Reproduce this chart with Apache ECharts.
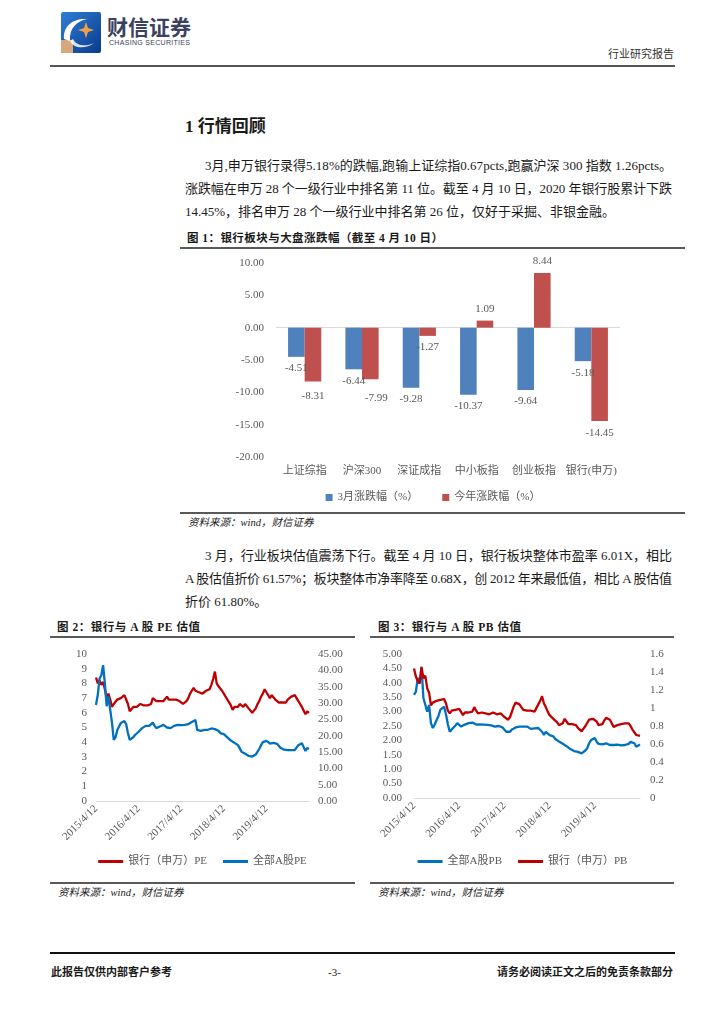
<!DOCTYPE html>
<html><head><meta charset="utf-8">
<script src="https://cdn.jsdelivr.net/npm/echarts/dist/echarts.min.js"></script>
<style>
html,body{margin:0;padding:0;background:#fff;}
#page{position:relative;width:724px;height:1024px;overflow:hidden;background:#fff;font-family:"Liberation Serif","Noto Sans CJK SC",serif;color:#1a1a1a;}
.ab{position:absolute;white-space:nowrap;}
.ln{position:absolute;white-space:nowrap;line-height:20px;height:20px;font-size:13px;}
.rule{position:absolute;background:#595959;}
.chart{position:absolute;}
</style>
</head><body>
<div id="page">
  <!-- header -->
  <svg class="ab" style="left:61px;top:12px" width="41" height="42" viewBox="0 0 41 42">
    <defs><linearGradient id="lg" x1="0" y1="0" x2="1" y2="1"><stop offset="0" stop-color="#2f7fd6"/><stop offset="1" stop-color="#0a3a8a"/></linearGradient></defs>
    <rect x="0" y="0" width="40" height="41" rx="2" fill="url(#lg)"/>
    <rect x="0" y="28" width="12" height="13" fill="#d9a87a"/>
    <path d="M3 27 C2 14 12 6 26 7 C16 9 8 16 9 29 Z" fill="#ffffff"/>
    <path d="M9 29 C12 36 24 38 33 31 C25 35 15 34 12 27 Z" fill="#ffffff" opacity="0.85"/>
    <path d="M25 10 L27 16 L33 18 L27 20 L25 26 L23 20 L17 18 L23 16 Z" fill="#f0a04b"/>
  </svg>
  <div class="ab" id="logoCn" style="left:107px;top:14px;font-family:'Noto Sans CJK SC';font-weight:bold;font-size:21px;line-height:24px;color:#3b4160;"><span>财信证券</span></div>
  <div class="ab fit" data-w="81" style="left:109px;top:39px;font-family:'Liberation Sans','Noto Sans';font-size:7px;line-height:8px;color:#3b4160;"><span>CHASING SECURITIES</span></div>
  <div class="ab" style="left:608px;top:46px;font-size:11px;line-height:14px;font-family:'Noto Sans CJK SC';color:#333;"><span>行业研究报告</span></div>
  <div class="rule" style="left:50px;top:65px;width:625px;height:1.5px;background:#555;"></div>

  <!-- section -->
  <div class="ab" style="left:185px;top:116px;font-size:17px;line-height:22px;font-weight:bold;"><span>1 行情回顾</span></div>

  <div class="ln fit" data-w="467" style="left:205px;top:156px;"><span>3月,申万银行录得5.18%的跌幅,跑输上证综指0.67pcts,跑赢沪深 300 指数 1.26pcts。</span></div>
  <div class="ln fit" data-w="487" style="left:185px;top:179px;"><span>涨跌幅在申万 28 个一级行业中排名第 11 位。截至 4 月 10 日，2020 年银行股累计下跌</span></div>
  <div class="ln" style="left:185px;top:202px;"><span>14.45%，排名申万 28 个一级行业中排名第 26 位，仅好于采掘、非银金融。</span></div>

  <!-- figure 1 -->
  <div class="ab fit" data-w="256" style="left:187px;top:231px;font-size:11.5px;line-height:15px;font-weight:bold;"><span>图 1：银行板块与大盘涨跌幅（截至 4 月 10 日）</span></div>
  <div class="rule" style="left:180px;top:247px;width:505px;height:1.5px;"></div>
  <div class="chart" id="c1" style="left:180px;top:250px;width:506px;height:262px;"></div>
  <div class="rule" style="left:180px;top:512px;width:505px;height:1.5px;"></div>
  <div class="ab" style="left:188px;top:516px;font-size:10.5px;line-height:14px;font-style:italic;"><span>资料来源：wind，财信证券</span></div>

  <div class="ln fit" data-w="467" style="left:205px;top:546px;"><span>3 月，行业板块估值震荡下行。截至 4 月 10 日，银行板块整体市盈率 6.01X，相比</span></div>
  <div class="ln fit" data-w="487" style="left:185px;top:569px;"><span>A 股估值折价 61.57%；板块整体市净率降至 0.68X，创 2012 年来最低值，相比 A 股估值</span></div>
  <div class="ln" style="left:185px;top:592px;"><span>折价 61.80%。</span></div>

  <!-- figure 2 -->
  <div class="ab fit" data-w="143" style="left:57px;top:620px;font-size:11.5px;line-height:15px;font-weight:bold;"><span>图 2：银行与 A 股 PE 估值</span></div>
  <div class="rule" style="left:50px;top:636px;width:305px;height:1.5px;"></div>
  <div class="chart" id="c2" style="left:50px;top:640px;width:305px;height:240px;"></div>
  <div class="rule" style="left:50px;top:882px;width:305px;height:1.5px;"></div>
  <div class="ab" style="left:58px;top:886px;font-size:10.5px;line-height:14px;font-style:italic;"><span>资料来源：wind，财信证券</span></div>

  <!-- figure 3 -->
  <div class="ab fit" data-w="143" style="left:378px;top:620px;font-size:11.5px;line-height:15px;font-weight:bold;"><span>图 3：银行与 A 股 PB 估值</span></div>
  <div class="rule" style="left:370px;top:636px;width:304px;height:1.5px;"></div>
  <div class="chart" id="c3" style="left:370px;top:640px;width:305px;height:240px;"></div>
  <div class="rule" style="left:370px;top:882px;width:304px;height:1.5px;"></div>
  <div class="ab" style="left:378px;top:886px;font-size:10.5px;line-height:14px;font-style:italic;"><span>资料来源：wind，财信证券</span></div>

  <!-- footer -->
  <div class="rule" style="left:50px;top:952px;width:625px;height:2px;background:#111;"></div>
  <div class="ab" style="left:51px;top:964px;font-size:11px;line-height:16px;font-weight:bold;"><span>此报告仅供内部客户参考</span></div>
  <div class="ab" style="left:328px;top:964px;font-size:11px;line-height:16px;"><span>-3-</span></div>
  <div class="ab" style="right:51px;top:964px;font-size:11px;line-height:16px;font-weight:bold;"><span>请务必阅读正文之后的免责条款部分</span></div>
</div>

<script>
// ---------- data ----------
const cats1 = ['上证综指', '沪深300', '深证成指', '中小板指', '创业板指', '银行(申万)'];
const marchChg = [-4.51, -6.44, -9.28, -10.37, -9.64, -5.18];
const ytdChg = [-8.31, -7.99, -1.27, 1.09, 8.44, -14.45];
const names1 = ['3月涨跌幅（%）', '今年涨跌幅（%）'];

// semi-monthly sample dates, 2015/4/12 ... 2020/3/27, plus last day 2020/4/10
const dates = [];
for (let y = 2015; y <= 2020; y++) {
  for (let m = 1; m <= 12; m++) {
    if (y === 2015 && m < 4) continue;
    if (y === 2020 && m > 3) continue;
    dates.push(y + '/' + m + '/12');
    dates.push(y + '/' + m + '/27');
  }
}
dates.push('2020/4/10');
const yearTickLabels = ['2015/4/12', '2016/4/12', '2017/4/12', '2018/4/12', '2019/4/12'];

const bankPE = [8.4,8.0,8.2,7.9,8.1,7.6,7.0,7.3,6.9,6.4,
6.6,6.7,6.9,6.8,7.0,7.1,7.2,7.3,6.6,6.1,
6.2,6.4,6.5,6.4,6.5,6.6,6.5,6.5,6.6,6.5,
6.5,6.6,7.0,6.9,6.8,6.7,6.8,6.7,6.8,6.9,
7.1,6.9,6.8,6.9,6.8,6.9,6.9,6.8,6.7,6.6,
6.5,6.8,7.0,7.3,7.5,7.7,7.5,7.4,7.4,7.5,
7.3,7.4,7.5,7.4,7.6,7.9,8.3,8.8,8.0,7.8,
7.7,7.5,7.3,7.1,6.9,6.8,6.5,6.2,6.4,6.5,
6.4,6.6,6.5,6.4,6.6,6.5,6.3,6.2,6.0,6.1,
6.3,6.6,6.8,7.1,7.3,7.6,7.4,7.2,7.0,7.2,
7.1,6.9,6.8,6.7,6.8,6.7,6.8,6.7,6.9,7.0,
7.1,7.0,7.2,7.1,6.8,6.6,6.4,6.5,5.9,6.1,
6.0];
const allPE = [29.4,32.5,37.5,38.5,41.6,36.0,29.0,32.0,28.0,24.0,
18.7,19.5,21.7,22.8,23.9,23.5,24.5,23.5,20.8,18.7,
18.5,19.5,20.2,20.5,21.2,21.7,22.3,22.8,23.0,23.3,
23.0,23.5,24.0,23.0,22.3,22.5,22.8,23.0,23.3,23.0,
22.5,22.3,22.3,22.5,23.0,23.2,23.3,23.0,23.2,23.0,
23.3,23.4,23.5,23.8,24.2,24.5,24.8,21.8,21.7,21.5,
21.7,21.8,21.5,21.8,22.0,22.2,22.3,22.0,22.5,21.5,
20.8,21.0,20.5,20.2,19.5,19.0,18.5,18.2,17.8,17.3,
17.1,16.5,15.1,14.8,14.5,14.1,13.8,13.9,13.6,13.8,
14.2,14.7,16.0,17.1,18.0,18.5,18.4,17.8,17.6,17.4,
17.8,18.0,17.5,17.0,16.2,15.8,15.7,15.6,15.6,15.5,
15.6,15.7,15.6,15.8,17.1,17.5,17.7,16.5,15.3,16.2,
16.0];
const allPB = [3.58,3.69,4.17,4.00,4.56,3.47,3.52,3.00,3.23,2.60,
2.43,2.55,2.71,2.85,3.06,3.10,3.17,2.90,2.55,2.30,
2.38,2.43,2.52,2.60,2.55,2.48,2.52,2.55,2.58,2.60,
2.57,2.62,2.60,2.55,2.53,2.56,2.58,2.55,2.57,2.54,
2.50,2.52,2.50,2.48,2.52,2.50,2.47,2.45,2.40,2.30,
2.25,2.30,2.38,2.42,2.45,2.47,2.48,2.47,2.48,2.50,
2.48,2.45,2.40,2.38,2.42,2.45,2.43,2.40,2.30,2.19,
2.30,2.25,2.18,2.12,2.14,2.05,2.00,1.96,1.90,1.88,
1.84,1.80,1.75,1.70,1.67,1.63,1.61,1.60,1.58,1.55,
1.60,1.65,1.73,1.90,2.01,2.05,2.08,1.95,1.88,1.84,
1.86,1.88,1.90,1.87,1.84,1.86,1.84,1.83,1.85,1.84,
1.83,1.86,1.84,1.85,1.88,1.95,2.01,1.90,1.78,1.83,
1.86];
const bankPB = [1.44,1.35,1.30,1.27,1.45,1.33,1.36,1.22,1.17,1.03,
1.06,1.07,1.08,1.07,1.09,1.08,1.10,1.05,0.97,0.94,
0.97,0.99,0.98,1.00,0.99,0.97,0.92,0.95,0.96,0.95,
0.97,0.96,1.01,0.97,0.94,0.94,0.95,0.93,0.94,0.95,
0.93,0.94,0.95,0.94,0.93,0.95,0.94,0.92,0.90,0.88,
0.87,0.90,0.96,1.02,1.06,1.07,1.04,1.01,0.98,0.99,
0.97,0.98,0.97,0.98,0.96,0.98,1.04,1.08,1.13,1.05,
1.01,0.96,0.92,0.90,0.88,0.86,0.84,0.81,0.79,0.83,
0.88,0.85,0.82,0.81,0.82,0.80,0.81,0.78,0.76,0.74,
0.77,0.80,0.82,0.87,0.89,0.88,0.90,0.85,0.81,0.79,
0.82,0.86,0.89,0.90,0.87,0.83,0.79,0.80,0.81,0.80,
0.82,0.84,0.83,0.82,0.83,0.80,0.76,0.74,0.70,0.68,
0.69];

// ---------- text fitting ----------
document.querySelectorAll('.fit').forEach(el => {
  const sp = el.firstElementChild;
  const n = sp.textContent.length;
  const w = sp.getBoundingClientRect().width;
  const t = parseFloat(el.dataset.w);
  sp.style.letterSpacing = ((t - w) / (n - 1)) + 'px';
});

// ---------- charts ----------
const FONT = '"Liberation Serif","Noto Sans CJK SC",serif';
const GRAY = '#595959';

const c1 = echarts.init(document.getElementById('c1'));
const labelShift = {0: [0, 3], 1: [6, 7]}; // ytd label nudges as in reference
function barData(vals, shifts) {
  return vals.map((v, i) => ({
    value: v,
    label: {position: v < 0 ? 'bottom' : 'top', offset: (shifts && shifts[i]) || [0, 0]}
  }));
}
const barLabel = {show: true, distance: 6, color: GRAY, fontSize: 11, fontFamily: FONT,
  formatter: p => p.value.toFixed(2)};
c1.setOption({
  animation: false,
  textStyle: {fontFamily: FONT},
  legend: {top: 237, left: 'center', icon: 'rect', itemWidth: 7, itemHeight: 7, itemGap: 24,
    textStyle: {fontSize: 11, color: GRAY, fontFamily: FONT}, data: names1},
  grid: {left: 96, top: 13, width: 344, height: 194, containLabel: false, outerBoundsMode: 'none'},
  xAxis: {type: 'category', data: cats1, axisLine: {show: false}, axisTick: {show: false},
    axisLabel: {color: GRAY, fontSize: 11, margin: 9, interval: 0, fontFamily: FONT}},
  yAxis: {type: 'value', min: -20, max: 10, interval: 5, splitLine: {show: false},
    axisLine: {show: false}, axisTick: {show: false},
    axisLabel: {formatter: v => v.toFixed(2), color: GRAY, fontSize: 11, margin: 12, fontFamily: FONT}},
  series: [
    {name: names1[0], type: 'bar', data: barData(marchChg), barWidth: 16.6, barGap: '0%',
      itemStyle: {color: '#4F81BD'}, label: barLabel,
      markLine: {silent: true, symbol: 'none', label: {show: false}, z: 1,
        lineStyle: {color: '#D9D9D9', width: 1, type: 'solid'}, data: [{yAxis: 0}]}},
    {name: names1[1], type: 'bar', data: barData(ytdChg, labelShift), barWidth: 16.6, barGap: '0%',
      itemStyle: {color: '#C0504D'}, label: barLabel}
  ]
});

function lineChart(id, gridLeft, gridW, gridH, leftAxis, rightAxis, series, legendNames) {
  const ch = echarts.init(document.getElementById(id));
  ch.setOption({
    animation: false,
    textStyle: {fontFamily: FONT},
    legend: {top: 211, left: 'center', icon: 'rect', itemWidth: 25, itemHeight: 3, itemGap: 16,
      textStyle: {fontSize: 11, color: GRAY, fontFamily: FONT}, data: legendNames},
    grid: {left: gridLeft, top: 14, width: gridW, height: gridH, containLabel: false, outerBoundsMode: 'none'},
    xAxis: {type: 'category', data: dates, boundaryGap: false,
      axisLine: {lineStyle: {color: '#D9D9D9', width: 1}}, axisTick: {show: false},
      axisLabel: {rotate: 45, color: GRAY, fontSize: 11, margin: 6, fontFamily: FONT,
        hideOverlap: false,
        interval: (i, v) => yearTickLabels.indexOf(v) >= 0}},
    yAxis: [
      Object.assign({type: 'value', splitLine: {show: false}, axisLine: {show: false}, axisTick: {show: false}}, leftAxis),
      Object.assign({type: 'value', position: 'right', splitLine: {show: false}, axisLine: {show: false}, axisTick: {show: false}}, rightAxis)
    ],
    series: series.map(s => ({
      name: s.name, type: 'line', data: s.data, yAxisIndex: s.axis, showSymbol: false, symbol: 'none',
      lineStyle: {color: s.color, width: 2.3}, itemStyle: {color: s.color}
    }))
  });
}

lineChart('c2', 46, 213, 147,
  {min: 0, max: 10, interval: 1, axisLabel: {color: GRAY, fontSize: 11, margin: 9, fontFamily: FONT}},
  {min: 0, max: 45, interval: 5, axisLabel: {formatter: v => v.toFixed(2), color: GRAY, fontSize: 11, margin: 9, fontFamily: FONT}},
  [{name: '银行（申万）PE', data: bankPE, axis: 0, color: '#C00000'},
   {name: '全部A股PE', data: allPE, axis: 1, color: '#0070C0'}],
  ['银行（申万）PE', '全部A股PE']);

lineChart('c3', 44, 226, 144,
  {min: 0, max: 5, interval: 0.5, axisLabel: {formatter: v => v.toFixed(2), color: GRAY, fontSize: 11, margin: 12, fontFamily: FONT}},
  {min: 0, max: 1.6, interval: 0.2, axisLabel: {formatter: v => String(+v.toFixed(1)), color: GRAY, fontSize: 11, margin: 10, fontFamily: FONT}},
  [{name: '全部A股PB', data: allPB, axis: 0, color: '#0070C0'},
   {name: '银行（申万）PB', data: bankPB, axis: 1, color: '#C00000'}],
  ['全部A股PB', '银行（申万）PB']);
</script>
</body></html>
